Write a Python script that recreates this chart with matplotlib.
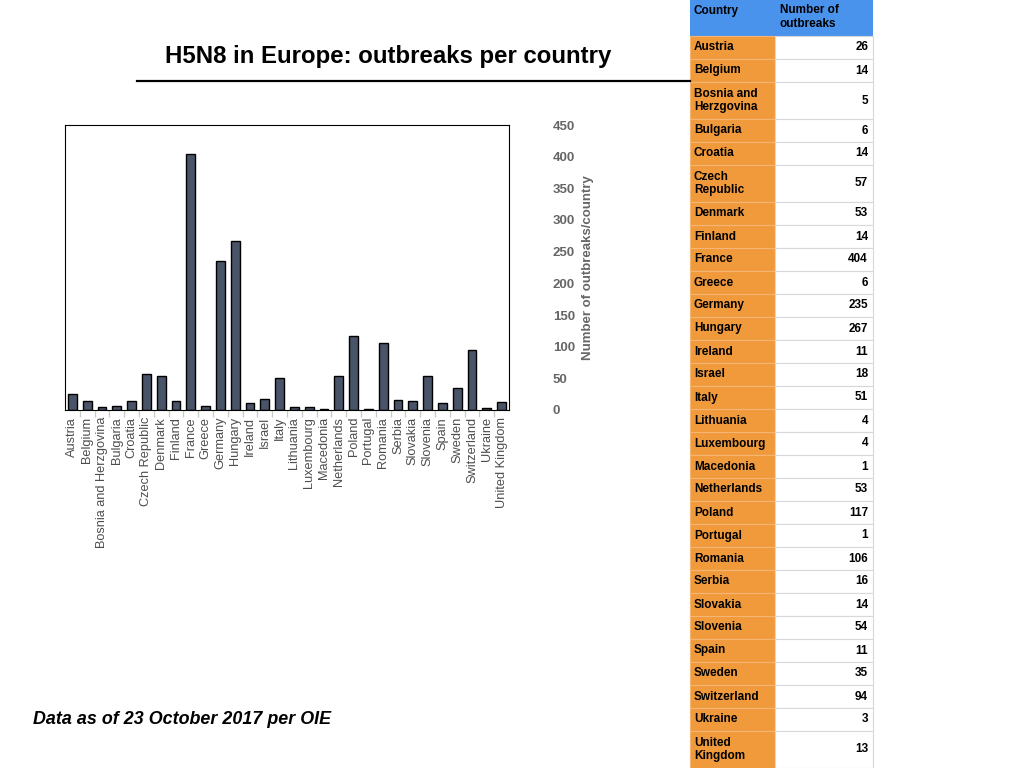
import matplotlib
matplotlib.use("Agg")
import matplotlib.pyplot as plt
from matplotlib.patches import Rectangle
from matplotlib.lines import Line2D

plt.rcParams['font.family'] = ['Liberation Sans', 'DejaVu Sans']

countries = ['Austria', 'Belgium', 'Bosnia and Herzgovina', 'Bulgaria', 'Croatia',
             'Czech Republic', 'Denmark', 'Finland', 'France', 'Greece', 'Germany',
             'Hungary', 'Ireland', 'Israel', 'Italy', 'Lithuania', 'Luxembourg',
             'Macedonia', 'Netherlands', 'Poland', 'Portugal', 'Romania', 'Serbia',
             'Slovakia', 'Slovenia', 'Spain', 'Sweden', 'Switzerland', 'Ukraine',
             'United Kingdom']
outbreaks = [26, 14, 5, 6, 14, 57, 53, 14, 404, 6, 235, 267, 11, 18, 51, 4, 4, 1,
             53, 117, 1, 106, 16, 14, 54, 11, 35, 94, 3, 13]
# names as they wrap in the table
table_names = ['Austria', 'Belgium', 'Bosnia and\nHerzgovina', 'Bulgaria', 'Croatia',
               'Czech\nRepublic', 'Denmark', 'Finland', 'France', 'Greece', 'Germany',
               'Hungary', 'Ireland', 'Israel', 'Italy', 'Lithuania', 'Luxembourg',
               'Macedonia', 'Netherlands', 'Poland', 'Portugal', 'Romania', 'Serbia',
               'Slovakia', 'Slovenia', 'Spain', 'Sweden', 'Switzerland', 'Ukraine',
               'United\nKingdom']

W, H = 1024, 768
fig = plt.figure(figsize=(W / 100, H / 100), dpi=100)

def fx(px):
    return px / W

def fy(py):
    return 1 - py / H

# bar chart
ax = fig.add_axes([fx(65), fy(410), fx(509) - fx(65), fy(125) - fy(410)])
x = list(range(len(countries)))
ax.bar(x, outbreaks, width=0.6, color='#4a5468', edgecolor='black', linewidth=1)
ax.set_xlim(-0.5, len(countries) - 0.5)
ax.set_ylim(0, 450)
ax.set_yticks(range(0, 451, 50))
ax.yaxis.tick_right()
ax.yaxis.set_label_position('right')
ax.tick_params(axis='y', length=0, pad=31.5, labelcolor='#666666', labelsize=9.5)
for t in ax.get_yticklabels():
    t.set_fontweight('bold')
    t.set_horizontalalignment('left')
ax.set_ylabel('Number of outbreaks/country', color='#666666', fontsize=9.5,
              fontweight='bold', labelpad=5)
ax.set_xticks(x)
ax.set_xticklabels(countries, rotation=90, color='#4d4d4d', fontsize=9.2)
ax.tick_params(axis='x', which='major', length=0, pad=5)
ax.set_xticks([i + 0.5 for i in x[:-1]], minor=True)
ax.tick_params(axis='x', which='minor', length=5, color='#cccccc', width=1)
for s in ax.spines.values():
    s.set_linewidth(0.8)

# title and rule
fig.text(fx(388), fy(56), 'H5N8 in Europe: outbreaks per country', ha='center',
         va='center', fontsize=17.3, fontweight='bold')
fig.add_artist(Line2D([fx(137), fx(690)], [fy(81), fy(81)], color='black', lw=1.6))

fig.text(fx(33), fy(720), 'Data as of 23 October 2017 per OIE', ha='left',
         va='center', fontsize=12.9, fontweight='bold', style='italic')

# table on the right
c0, c1, c2 = 690, 775, 873
blue = '#4a93ec'
orange = '#f09a3c'
fig.add_artist(Rectangle((fx(c0), fy(36)), fx(c2) - fx(c0), fy(0) - fy(36),
                         facecolor=blue, edgecolor='none'))
fig.text(fx(c0 + 4), fy(5), 'Country', ha='left', va='top', fontsize=8.5,
         fontweight='bold')
fig.text(fx(c1 + 5), fy(4), 'Number of\noutbreaks', ha='left', va='top',
         fontsize=8.5, fontweight='bold', linespacing=1.2)

y = 36
for name, val in zip(table_names, outbreaks):
    h = 37 if '\n' in name else 23
    fig.add_artist(Rectangle((fx(c0), fy(y + h)), fx(c1) - fx(c0), fy(y) - fy(y + h),
                             facecolor=orange, edgecolor='#f5b574', lw=0.8))
    fig.add_artist(Rectangle((fx(c1), fy(y + h)), fx(c2) - fx(c1), fy(y) - fy(y + h),
                             facecolor='white', edgecolor='#d8d8d8', lw=0.8))
    fig.text(fx(c0 + 4), fy(y + h / 2), name, ha='left', va='center', fontsize=8.5,
             fontweight='bold', linespacing=1.15)
    fig.text(fx(c2 - 5), fy(y + h / 2), str(val), ha='right', va='center',
             fontsize=8.5, fontweight='bold')
    y += h

fig.savefig('out.png', dpi=100)
